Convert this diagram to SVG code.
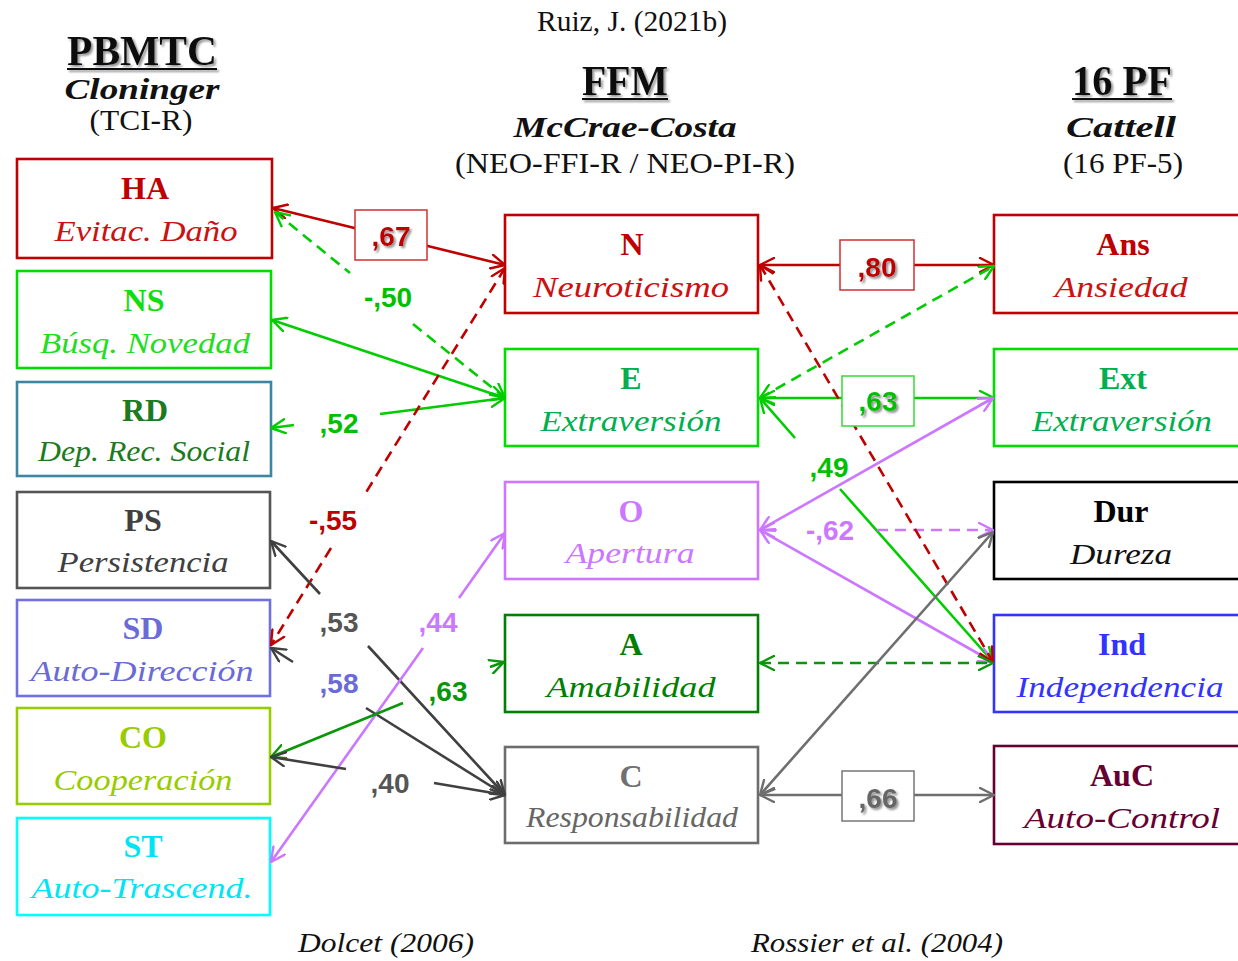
<svg xmlns="http://www.w3.org/2000/svg" width="1238" height="961" viewBox="0 0 1238 961">
<defs>
<style>
.bx{fill:#fff;stroke-width:2.6}
.ab{font-family:"Liberation Serif",serif;font-weight:bold;font-size:32px;text-anchor:middle}
.nm{font-family:"Liberation Serif",serif;font-style:italic;font-size:30px;text-anchor:middle}
.hd{font-family:"Liberation Serif",serif;font-weight:bold;font-size:42px;text-anchor:middle;fill:#111}
.sub{font-family:"Liberation Serif",serif;font-weight:bold;font-style:italic;font-size:30px;text-anchor:middle;fill:#111}
.par{font-family:"Liberation Serif",serif;font-size:30px;text-anchor:middle;fill:#111}
.cit{font-family:"Liberation Serif",serif;font-style:italic;font-size:28px;text-anchor:middle;fill:#111}
.lbl{font-family:"Liberation Sans",Arial,sans-serif;font-weight:bold;font-size:28px;text-anchor:middle}
.ln{fill:none;stroke-width:2.6}
.dash{stroke-dasharray:11 7}
.lb{fill:#fff;stroke-width:1.5}
.mk{fill:none;stroke-width:2.4;stroke-dasharray:none;stroke-linecap:round;stroke-linejoin:round}
</style>
<filter id="sh" x="-20%" y="-20%" width="150%" height="150%"><feDropShadow dx="2" dy="2" stdDeviation="1.2" flood-color="#777" flood-opacity="0.8"/></filter>
<marker id="mR" viewBox="0 0 16 16" refX="15" refY="8" markerWidth="16" markerHeight="16" markerUnits="userSpaceOnUse" orient="auto-start-reverse"><path class="mk" stroke="#c00000" d="M1,1 L15,8 L1,15"/></marker>
<marker id="mG" viewBox="0 0 16 16" refX="15" refY="8" markerWidth="16" markerHeight="16" markerUnits="userSpaceOnUse" orient="auto-start-reverse"><path class="mk" stroke="#00cc00" d="M1,1 L15,8 L1,15"/></marker>
<marker id="mG2" viewBox="0 0 16 16" refX="15" refY="8" markerWidth="16" markerHeight="16" markerUnits="userSpaceOnUse" orient="auto-start-reverse"><path class="mk" stroke="#0a960a" d="M1,1 L15,8 L1,15"/></marker>
<marker id="mV" viewBox="0 0 16 16" refX="15" refY="8" markerWidth="16" markerHeight="16" markerUnits="userSpaceOnUse" orient="auto-start-reverse"><path class="mk" stroke="#cc77ff" d="M1,1 L15,8 L1,15"/></marker>
<marker id="mK" viewBox="0 0 16 16" refX="15" refY="8" markerWidth="16" markerHeight="16" markerUnits="userSpaceOnUse" orient="auto-start-reverse"><path class="mk" stroke="#404040" d="M1,1 L15,8 L1,15"/></marker>
<marker id="mK2" viewBox="0 0 16 16" refX="15" refY="8" markerWidth="16" markerHeight="16" markerUnits="userSpaceOnUse" orient="auto-start-reverse"><path class="mk" stroke="#6e6e6e" d="M1,1 L15,8 L1,15"/></marker>
</defs>
<rect width="1238" height="961" fill="#fff"/>

<g id="headers">
<text class="par" x="632" y="31" font-size="26" textLength="190" lengthAdjust="spacingAndGlyphs">Ruiz, J. (2021b)</text>
<g filter="url(#sh)">
<text class="hd" x="142" y="65" font-size="39" textLength="150" lengthAdjust="spacingAndGlyphs">PBMTC</text>
<line x1="67" y1="69" x2="217" y2="69" stroke="#111" stroke-width="2"/>
<text class="hd" x="625" y="95" textLength="86" lengthAdjust="spacingAndGlyphs">FFM</text>
<line x1="582" y1="99" x2="668" y2="99" stroke="#111" stroke-width="2"/>
<text class="hd" x="1122" y="95" textLength="100" lengthAdjust="spacingAndGlyphs">16 PF</text>
<line x1="1072" y1="99" x2="1172" y2="99" stroke="#111" stroke-width="2"/>
</g>
<text class="sub" x="142" y="99" font-size="28" textLength="155" lengthAdjust="spacingAndGlyphs">Cloninger</text>
<text class="par" x="141" y="130" textLength="103" lengthAdjust="spacingAndGlyphs">(TCI-R)</text>
<text class="sub" x="625" y="137" textLength="223" lengthAdjust="spacingAndGlyphs">McCrae-Costa</text>
<text class="par" x="625" y="173" textLength="340" lengthAdjust="spacingAndGlyphs">(NEO-FFI-R / NEO-PI-R)</text>
<text class="sub" x="1121" y="137" textLength="110" lengthAdjust="spacingAndGlyphs">Cattell</text>
<text class="par" x="1123" y="173" textLength="120" lengthAdjust="spacingAndGlyphs">(16 PF-5)</text>
<text class="cit" x="386" y="952" textLength="176" lengthAdjust="spacingAndGlyphs">Dolcet (2006)</text>
<text class="cit" x="877" y="952" textLength="252" lengthAdjust="spacingAndGlyphs">Rossier et al. (2004)</text>
</g>

<g id="HA"><rect class="bx" x="17" y="159" width="255" height="99" stroke="#c00000"/><text class="ab" x="145" y="199" fill="#c00000">HA</text><text class="nm" x="146" y="241" fill="#cc1111" textLength="183" lengthAdjust="spacingAndGlyphs">Evitac. Daño</text></g>
<g id="NS"><rect class="bx" x="17" y="271" width="254" height="97" stroke="#00dd00"/><text class="ab" x="144" y="311" fill="#11dd11">NS</text><text class="nm" x="145" y="353" fill="#22dd22" textLength="210" lengthAdjust="spacingAndGlyphs">Búsq. Novedad</text></g>
<g id="RD"><rect class="bx" x="17" y="382" width="254" height="94" stroke="#3d86a0"/><text class="ab" x="145" y="421" fill="#1e7a1e">RD</text><text class="nm" x="144" y="461" fill="#1e7a1e" textLength="212" lengthAdjust="spacingAndGlyphs">Dep. Rec. Social</text></g>
<g id="PS"><rect class="bx" x="17" y="492" width="253" height="96" stroke="#555"/><text class="ab" x="143" y="531" fill="#404040">PS</text><text class="nm" x="143" y="572" fill="#404040" textLength="171" lengthAdjust="spacingAndGlyphs">Persistencia</text></g>
<g id="SD"><rect class="bx" x="17" y="600" width="253" height="96" stroke="#7070e0"/><text class="ab" x="143" y="639" fill="#6a6ad8">SD</text><text class="nm" x="142" y="681" fill="#6a6ad8" textLength="223" lengthAdjust="spacingAndGlyphs">Auto-Dirección</text></g>
<g id="CO"><rect class="bx" x="17" y="708" width="253" height="96" stroke="#99cc00"/><text class="ab" x="143" y="748" fill="#99cc00">CO</text><text class="nm" x="143" y="790" fill="#99cc00" textLength="179" lengthAdjust="spacingAndGlyphs">Cooperación</text></g>
<g id="ST"><rect class="bx" x="17" y="818" width="253" height="97" stroke="#00ffff"/><text class="ab" x="143" y="857" fill="#00e5f5">ST</text><text class="nm" x="142" y="898" fill="#00e5f5" textLength="221" lengthAdjust="spacingAndGlyphs">Auto-Trascend.</text></g>

<g id="N"><rect class="bx" x="505" y="215" width="253" height="98" stroke="#c00000"/><text class="ab" x="632" y="255" fill="#c00000">N</text><text class="nm" x="631" y="297" fill="#cc1111" textLength="196" lengthAdjust="spacingAndGlyphs">Neuroticismo</text></g>
<g id="E"><rect class="bx" x="505" y="349" width="253" height="97" stroke="#00dd00"/><text class="ab" x="631" y="389" fill="#00b050">E</text><text class="nm" x="631" y="431" fill="#00b050" textLength="181" lengthAdjust="spacingAndGlyphs">Extraversión</text></g>
<g id="O"><rect class="bx" x="505" y="482" width="253" height="97" stroke="#cc77ff"/><text class="ab" x="631" y="522" fill="#cc77ff">O</text><text class="nm" x="630" y="563" fill="#cc77ff" textLength="129" lengthAdjust="spacingAndGlyphs">Apertura</text></g>
<g id="A"><rect class="bx" x="505" y="615" width="253" height="97" stroke="#008000"/><text class="ab" x="631" y="655" fill="#008000">A</text><text class="nm" x="631" y="697" fill="#008000" textLength="169" lengthAdjust="spacingAndGlyphs">Amabilidad</text></g>
<g id="C"><rect class="bx" x="505" y="747" width="253" height="96" stroke="#6d6d6d"/><text class="ab" x="631" y="787" fill="#707070">C</text><text class="nm" x="632" y="827" fill="#666" textLength="212" lengthAdjust="spacingAndGlyphs">Responsabilidad</text></g>

<g id="Ans"><rect class="bx" x="994" y="215" width="260" height="98" stroke="#c00000"/><text class="ab" x="1123" y="255" fill="#c00000">Ans</text><text class="nm" x="1121" y="297" fill="#cc1111" textLength="133" lengthAdjust="spacingAndGlyphs">Ansiedad</text></g>
<g id="Ext"><rect class="bx" x="994" y="349" width="260" height="97" stroke="#00dd00"/><text class="ab" x="1123" y="389" fill="#00b050">Ext</text><text class="nm" x="1122" y="431" fill="#00b050" textLength="180" lengthAdjust="spacingAndGlyphs">Extraversión</text></g>
<g id="Dur"><rect class="bx" x="994" y="482" width="260" height="97" stroke="#000"/><text class="ab" x="1121" y="522" fill="#000">Dur</text><text class="nm" x="1121" y="564" fill="#111" textLength="102" lengthAdjust="spacingAndGlyphs">Dureza</text></g>
<g id="Ind"><rect class="bx" x="994" y="615" width="260" height="97" stroke="#3333ff"/><text class="ab" x="1122" y="655" fill="#3333ff">Ind</text><text class="nm" x="1120" y="697" fill="#3333ff" textLength="207" lengthAdjust="spacingAndGlyphs">Independencia</text></g>
<g id="AuC"><rect class="bx" x="994" y="746" width="260" height="98" stroke="#660033"/><text class="ab" x="1122" y="786" fill="#660033">AuC</text><text class="nm" x="1122" y="828" fill="#660033" textLength="196" lengthAdjust="spacingAndGlyphs">Auto-Control</text></g>

<g id="connectors">
<path class="ln" stroke="#c00000" d="M273,208 L505,265" marker-start="url(#mR)" marker-end="url(#mR)"/>
<path class="ln dash" stroke="#00cc00" d="M275,212 L350,273 M413,324 L505,398" marker-start="url(#mG)" marker-end="url(#mG)"/>
<path class="ln" stroke="#00cc00" d="M272,320 L505,398" marker-start="url(#mG)" marker-end="url(#mG)"/>
<path class="ln" stroke="#00cc00" d="M505,398 L380,414 M294,425 L271,428" marker-start="url(#mG)" marker-end="url(#mG)"/>
<path class="ln dash" stroke="#c00000" d="M505,268 L365,494 M331,548 L271,645" marker-start="url(#mR)" marker-end="url(#mR)"/>
<path class="ln" stroke="#404040" d="M271,541 L320,594 M368,646 L505,795" marker-start="url(#mK)" marker-end="url(#mK)"/>
<path class="ln" stroke="#404040" d="M271,648 L293,662 M366,708 L505,795" marker-start="url(#mK)" marker-end="url(#mK)"/>
<path class="ln" stroke="#cc77ff" d="M271,862 L423,648 M459,598 L505,533" marker-start="url(#mV)" marker-end="url(#mV)"/>
<path class="ln" stroke="#0a960a" d="M271,757 L403,703 M490,667 L504,662" marker-start="url(#mG2)" marker-end="url(#mG2)"/>
<path class="ln" stroke="#404040" d="M271,757 L346,769 M434,783 L505,795" marker-start="url(#mK)" marker-end="url(#mK)"/>

<path class="ln" stroke="#c00000" d="M760,265 L994,265" marker-start="url(#mR)" marker-end="url(#mR)"/>
<path class="ln dash" stroke="#00cc00" d="M760,398 L994,266" marker-start="url(#mG)" marker-end="url(#mG)"/>
<path class="ln" stroke="#00cc00" d="M760,398 L994,398" marker-start="url(#mG)" marker-end="url(#mG)"/>
<path class="ln" stroke="#00cc00" d="M760,398 L795,438 M840,489 L993,662" marker-start="url(#mG)" marker-end="url(#mG)"/>
<path class="ln" stroke="#cc77ff" d="M760,530 L993,398" marker-start="url(#mV)" marker-end="url(#mV)"/>
<path class="ln" stroke="#cc77ff" d="M760,530 L993,662" marker-start="url(#mV)" marker-end="url(#mV)"/>
<path class="ln dash" stroke="#cc77ff" d="M760,530 L762,530 M877,530 L993,530" marker-start="url(#mV)" marker-end="url(#mV)"/>
<path class="ln dash" stroke="#c00000" d="M760,265 L993,662" marker-start="url(#mR)" marker-end="url(#mR)"/>
<path class="ln dash" stroke="#0a960a" d="M760,663 L993,663" marker-start="url(#mG2)" marker-end="url(#mG2)"/>
<path class="ln" stroke="#6e6e6e" d="M760,795 L993,532" marker-start="url(#mK2)" marker-end="url(#mK2)"/>
<path class="ln" stroke="#6e6e6e" d="M760,795 L994,795" marker-start="url(#mK2)" marker-end="url(#mK2)"/>

<rect class="lb" x="355" y="210" width="72" height="50" stroke="#d03030"/>
<text class="lbl" x="391" y="246" fill="#c00000" filter="url(#sh)">,67</text>
<rect class="lb" x="840" y="240" width="74" height="50" stroke="#d03030"/>
<text class="lbl" x="877" y="277" fill="#c00000" filter="url(#sh)">,80</text>
<rect class="lb" x="842" y="376" width="72" height="50" stroke="#33dd33"/>
<text class="lbl" x="878" y="411" fill="#00c000" filter="url(#sh)">,63</text>
<rect class="lb" x="842" y="771" width="72" height="50" stroke="#777"/>
<text class="lbl" x="878" y="808" fill="#666" filter="url(#sh)">,66</text>

<text class="lbl" x="388" y="307" fill="#00c000">-,50</text>
<text class="lbl" x="339" y="433" fill="#00c000">,52</text>
<text class="lbl" x="333" y="530" fill="#c00000">-,55</text>
<text class="lbl" x="339" y="632" fill="#555">,53</text>
<text class="lbl" x="339" y="693" fill="#6a6ad8">,58</text>
<text class="lbl" x="438" y="632" fill="#cc77ff">,44</text>
<text class="lbl" x="448" y="701" fill="#0a960a">,63</text>
<text class="lbl" x="390" y="793" fill="#555">,40</text>
<text class="lbl" x="829" y="477" fill="#00c000">,49</text>
<text class="lbl" x="830" y="540" fill="#cc77ff">-,62</text>
</g>
</svg>
